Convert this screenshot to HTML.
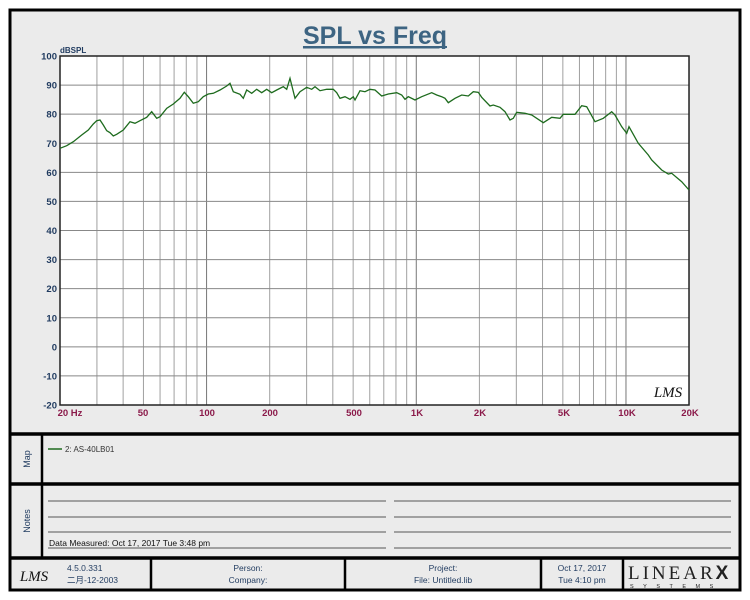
<!DOCTYPE html>
<html><head><meta charset="utf-8"><style>
body{margin:0;background:#fff;}
svg{display:block;font-family:"Liberation Sans","Noto Sans CJK SC",sans-serif;}
</style></head><body>
<svg width="750" height="600" viewBox="0 0 750 600" xmlns="http://www.w3.org/2000/svg">
<rect x="10" y="10" width="730" height="580" fill="#ebebeb" stroke="#000" stroke-width="3"/>
<line x1="10" y1="434" x2="740" y2="434" stroke="#000" stroke-width="3.5"/>
<line x1="10" y1="484" x2="740" y2="484" stroke="#000" stroke-width="3.5"/>
<line x1="10" y1="558" x2="740" y2="558" stroke="#000" stroke-width="3.5"/>
<line x1="42" y1="434" x2="42" y2="558" stroke="#000" stroke-width="2.5"/>
<line x1="151" y1="558" x2="151" y2="590" stroke="#000" stroke-width="2.5"/>
<line x1="345" y1="558" x2="345" y2="590" stroke="#000" stroke-width="2.5"/>
<line x1="541" y1="558" x2="541" y2="590" stroke="#000" stroke-width="2.5"/>
<line x1="623" y1="558" x2="623" y2="590" stroke="#000" stroke-width="2.5"/>
<text x="375" y="44" text-anchor="middle" font-size="25" font-weight="bold" fill="#3d6482" text-decoration="underline">SPL vs Freq</text>
<line x1="304" y1="47" x2="447" y2="47" stroke="#3d6482" stroke-width="2"/>
<rect x="60" y="56" width="629" height="349" fill="#fff"/>
<g id="grid" stroke="#a0a0a0" stroke-width="1"></g>
<rect x="60" y="56" width="629" height="349" fill="none" stroke="#222" stroke-width="1.5"/>
<text x="60" y="53" font-size="8" font-weight="bold" fill="#1f3a5f">dBSPL</text>
<g id="ylab" font-size="9.5" font-weight="bold" fill="#1f3a5f" text-anchor="end"></g>
<g font-size="9.5" font-weight="bold" fill="#8b1a4a" text-anchor="middle">
<text x="70" y="416">20  Hz</text><text x="143" y="416">50</text><text x="207" y="416">100</text><text x="270" y="416">200</text><text x="354" y="416">500</text><text x="417" y="416">1K</text><text x="480" y="416">2K</text><text x="564" y="416">5K</text><text x="627" y="416">10K</text><text x="690" y="416">20K</text>
</g>
<text x="668" y="397" font-size="15" font-style="italic" fill="#111" text-anchor="middle" font-family="Liberation Serif,serif">LMS</text>
<polyline fill="none" stroke="#1e6b1e" stroke-width="1.3" points="60,148.3 66.7,145.7 73.3,141.7 81.7,135 88.3,130 93.3,124 96.7,120.7 100,120 103.3,125 106.7,130.7 110,132.7 113.3,136 116.7,134.3 123.3,130 130,121.7 135,123.3 140,120.7 146.7,117.3 151.7,111.7 156.7,118.3 160,116.7 166.7,108.3 173.3,104 180,98.3 184.3,92.3 188.3,96.7 193.3,103.3 198.3,101.7 203.3,96.7 208.3,94 213.3,93.3 220,90 226.7,86 230,83.3 233.3,91.7 240,94.3 243.3,98.3 246.7,90 251.7,93.3 256.7,89.3 261.7,92.7 266.7,89.3 271.7,92.7 276.7,90 283.3,86.7 286.7,89.3 290,78.3 295,98.3 300,91.7 306.7,87.3 311.7,89.3 315,86.7 320,90.7 326.7,89.3 333.3,89.3 336.7,92.7 340,98.3 345,96.7 350,99.3 353.3,96.7 355,100 360,90.7 365,91.7 370,89.3 375,90 381.7,96 388.3,94 396.7,92.7 401.7,95 405,99.3 408.3,96.7 415,100 421.7,96.7 431.7,92.7 436.7,95 441.7,96.7 445,98.3 448.3,102.7 455,98.3 461.7,95 468.3,96 473.3,91.7 478.3,92.3 481.7,97.3 490,106 493.3,105 500,107.3 505,111.7 510,120 513.3,118.3 516.7,112.3 525,113.3 531.7,115 543.3,122.7 551.7,117.3 560,118.3 563.3,114.3 575,114.3 581.7,105.7 586.7,106.7 595,121.7 603.3,118.3 611.7,111.7 615,115 621.7,126.7 626.7,133.3 629,126.7 638.3,143.3 648.3,155 651.7,160 661.7,170 668.3,174 671.7,173.3 681.7,181.7 689,190"/>
<text transform="translate(30,459) rotate(-90)" font-size="9" fill="#1f3a5f" text-anchor="middle">Map</text>
<text transform="translate(30,521) rotate(-90)" font-size="9" fill="#1f3a5f" text-anchor="middle">Notes</text>
<line x1="48" y1="449" x2="62" y2="449" stroke="#1e6b1e" stroke-width="1.5"/>
<text x="65" y="452" font-size="8" fill="#333">2: AS-40LB01</text>
<g stroke="#555" stroke-width="1">
<line x1="48" y1="501" x2="386" y2="501"/><line x1="394" y1="501" x2="731" y2="501"/>
<line x1="48" y1="517" x2="386" y2="517"/><line x1="394" y1="517" x2="731" y2="517"/>
<line x1="48" y1="532" x2="386" y2="532"/><line x1="394" y1="532" x2="731" y2="532"/>
<line x1="48" y1="548" x2="386" y2="548"/><line x1="394" y1="548" x2="731" y2="548"/>
</g>
<text x="49" y="546" font-size="8.5" fill="#111">Data Measured: Oct 17, 2017  Tue  3:48 pm</text>
<text x="34" y="581" font-size="15" font-style="italic" fill="#111" text-anchor="middle" font-family="Liberation Serif,serif">LMS</text>
<g font-size="8.5" fill="#1f3a5f">
<text x="67" y="571">4.5.0.331</text><text x="67" y="583">二月-12-2003</text>
<text x="248" y="571" text-anchor="middle">Person:</text><text x="248" y="583" text-anchor="middle">Company:</text>
<text x="443" y="571" text-anchor="middle">Project:</text><text x="443" y="583" text-anchor="middle">File: Untitled.lib</text>
<text x="582" y="571" text-anchor="middle">Oct 17, 2017</text><text x="582" y="583" text-anchor="middle">Tue  4:10 pm</text>
</g>
<text x="628" y="579" font-size="19" fill="#222" font-family="Liberation Serif,serif" letter-spacing="3">LINEAR<tspan font-weight="bold" font-family="Liberation Sans,sans-serif">X</tspan></text>
<text x="630" y="588" font-size="5.5" fill="#222" letter-spacing="9.5">SYSTEMS</text>
</svg>
<script>
var g=document.getElementById('grid'),ns='http://www.w3.org/2000/svg';
function L(x1,y1,x2,y2,c){var l=document.createElementNS(ns,'line');l.setAttribute('x1',x1);l.setAttribute('y1',y1);l.setAttribute('x2',x2);l.setAttribute('y2',y2);if(c)l.setAttribute('stroke',c);g.appendChild(l);}
for(var d=10;d<=10000;d*=10)for(var m=1;m<10;m++){var f=d*m;if(f<20||f>20000)continue;var x=60+209.7*Math.log10(f/20);L(x,56,x,405,m==1?'#777':null);}
var yl=document.getElementById('ylab');
for(var i=0;i<=12;i++){var y=56+i*349/12;L(60,y,689,y,'#888');var t=document.createElementNS(ns,'text');t.setAttribute('x',57);t.setAttribute('y',y+3.5);t.textContent=100-i*10;yl.appendChild(t);}
</script>
</body></html>
